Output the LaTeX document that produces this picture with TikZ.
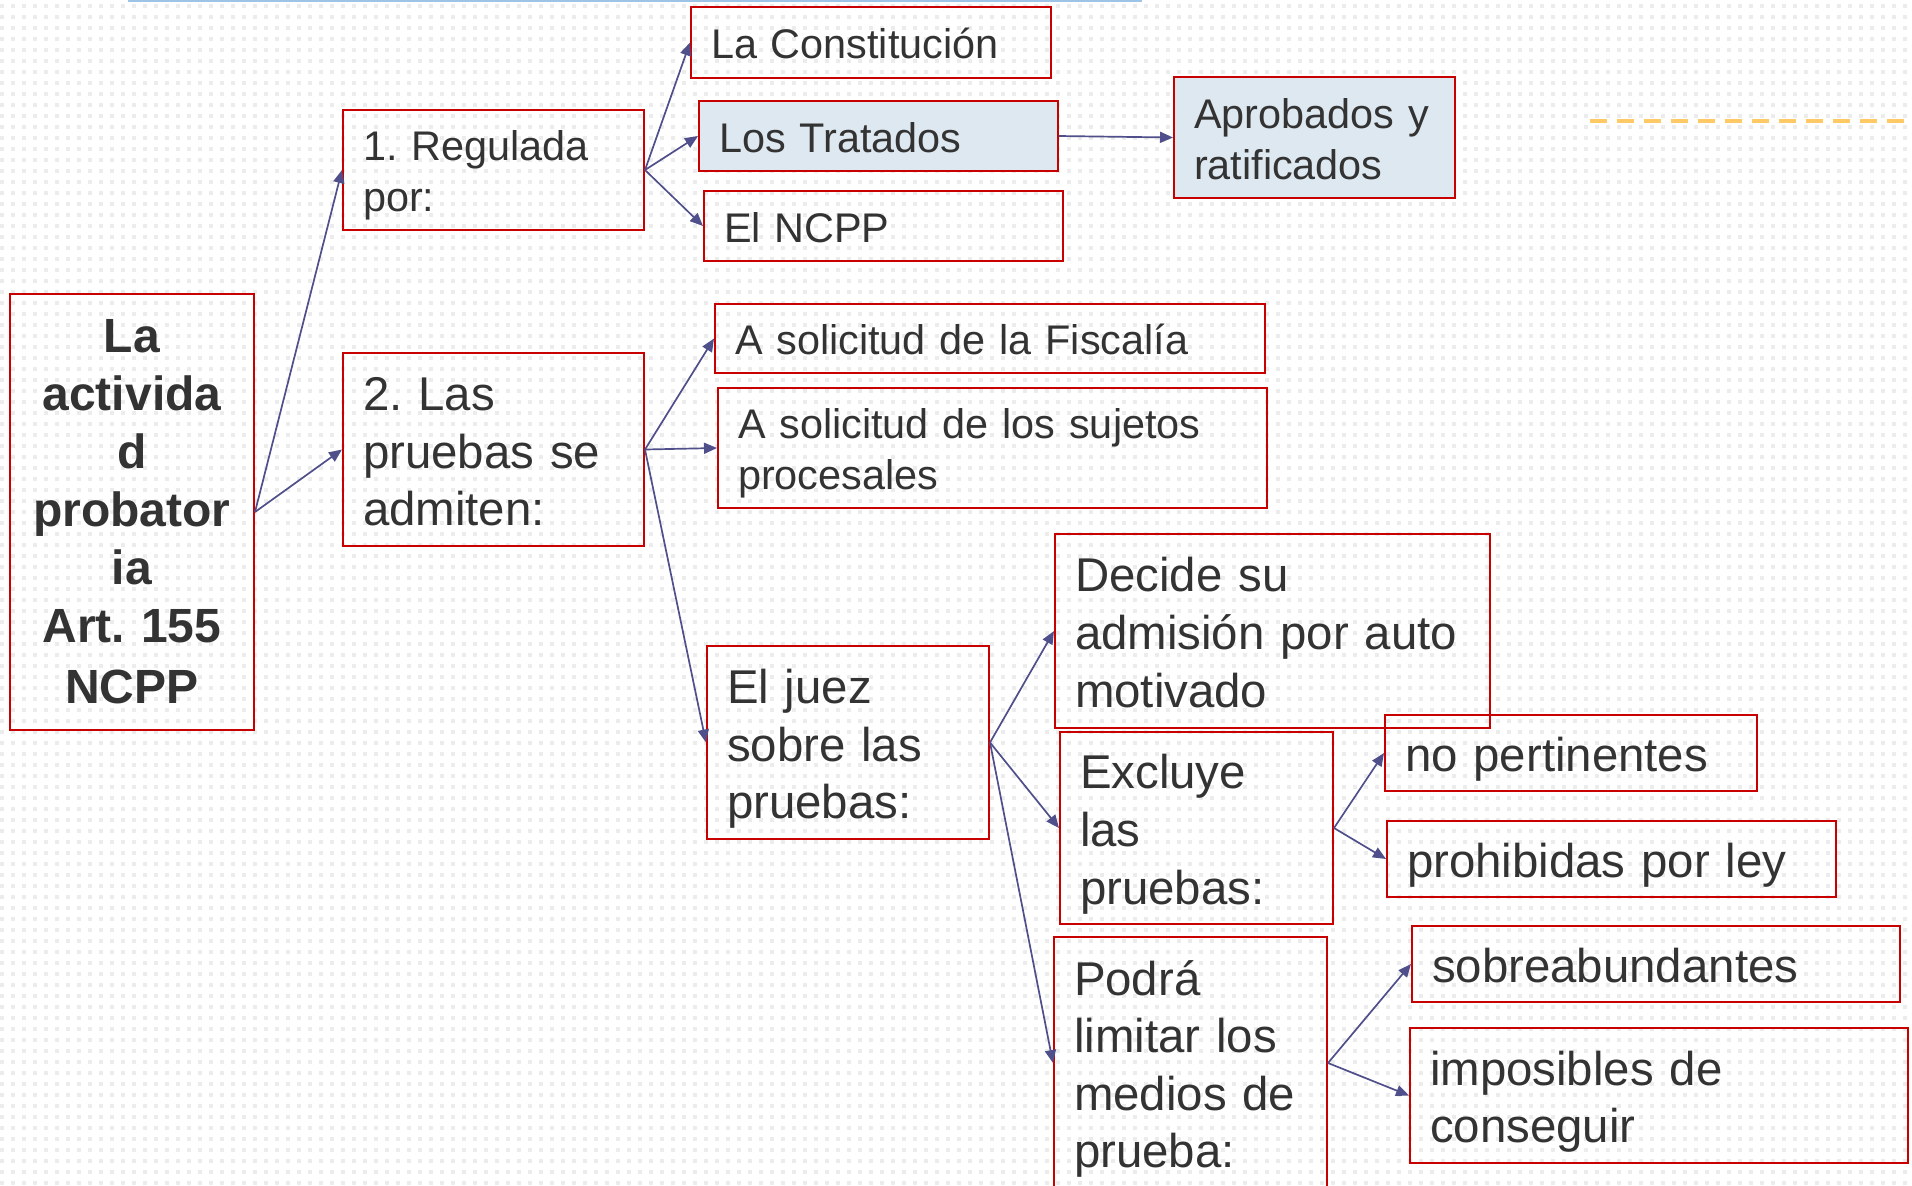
\documentclass[tikz,border=0pt]{standalone}
\usepackage{fontspec}
\setmainfont{Liberation Sans}
\usetikzlibrary{arrows.meta,patterns}
\frenchspacing
\pgfdeclarepatternformonly{bgdots}{\pgfqpoint{0pt}{0pt}}{\pgfqpoint{2pt}{2pt}}{\pgfqpoint{5.5pt}{5.5pt}}{\pgfpathrectangle{\pgfqpoint{0pt}{0pt}}{\pgfqpoint{2pt}{2pt}}\pgfusepath{fill}}
\definecolor{boxred}{RGB}{200,0,0}
\definecolor{boxfill}{RGB}{222,232,240}
\definecolor{arrowc}{RGB}{79,79,139}
\definecolor{txt}{RGB}{51,51,51}
\definecolor{topblue}{RGB}{157,195,230}
\definecolor{dashor}{RGB}{255,201,102}
\definecolor{dotc}{RGB}{236,236,236}
% #1 style, #2 name, #3 x1, #4 y1, #5 x2, #6 y2, #7 text
\newcommand\bxnode[7]{%
  \pgfmathsetmacro\bxw{(#5-#3)*0.5}%
  \pgfmathsetmacro\bxh{(#6-#4)*0.5}%
  \pgfmathsetmacro\bxt{(#5-#3)*0.5-20}%
  \node[box,#1,minimum width=\bxw pt,minimum height=\bxh pt,text width=\bxt pt] (#2) at ({(#3+#5)/2},{(#4+#6)/2}) {#7};%
}
\begin{document}
\begin{tikzpicture}[x=0.5pt,y=-0.5pt,
  box/.style={draw=boxred,line width=1pt,inner xsep=10pt,inner ysep=0pt,align=left,text=txt,anchor=center},
  fsmall/.style={font=\fontsize{20.7}{25.5}\selectfont,
    execute at begin node={\rule{0pt}{21.3pt}},
    execute at end node={\rule[-5.2pt]{0pt}{5.2pt}}},
  fbig/.style={font=\fontsize{23.7}{28.8}\selectfont,
    execute at begin node={\rule{0pt}{24.4pt}},
    execute at end node={\rule[-5.9pt]{0pt}{5.9pt}}},
  fmain/.style={font=\fontsize{24}{29}\selectfont\bfseries},
  filled/.style={fill=boxfill},
  arr/.style={draw=arrowc,line width=0.85pt,-{Triangle[length=6.5pt,width=5.5pt]}}]
\useasboundingbox (0,0) rectangle (1912,1185);
\clip (0,0) rectangle (1912,1185);
\fill[white] (0,0) rectangle (1912,1185);
\fill[pattern=bgdots,pattern color=dotc] (0,0) rectangle (1912,1185);
\draw[topblue,line width=1.5pt] (128,0) -- (1142,0);
\draw[dashor,line width=2pt,dash pattern=on 8.5pt off 5pt] (1590,121) -- (1912,121);

\bxnode{fmain,align=center}{main}{10}{294}{254}{730}{La\\activida\\d\\probator\\ia\\Art. 155\\[1.5pt]NCPP}
\bxnode{fsmall}{reg}{343}{110}{644}{230}{1. Regulada\\por:}
\bxnode{fsmall}{const}{691}{7}{1051}{78}{La Constitución}
\bxnode{fsmall,filled}{trat}{699}{101}{1058}{171}{Los Tratados}
\bxnode{fsmall}{ncpp}{704}{191}{1063}{261}{El NCPP}
\bxnode{fsmall,filled}{aprob}{1174}{77}{1455}{198}{Aprobados y\\ratificados}
\bxnode{fbig}{pru}{343}{353}{644}{546}{2. Las\\pruebas se\\admiten:}
\bxnode{fsmall}{fisc}{715}{304}{1265}{373}{A solicitud de la Fiscalía}
\bxnode{fsmall}{suj}{718}{388}{1267}{508}{A solicitud de los sujetos\\procesales}
\bxnode{fbig}{juez}{707}{646}{989}{839}{El juez\\sobre las\\pruebas:}
\bxnode{fbig}{dec}{1055}{534}{1490}{728}{Decide su\\admisión por auto\\motivado}
\bxnode{fbig}{excl}{1060}{732}{1333}{924}{Excluye\\las\\pruebas:}
\bxnode{fbig}{pod}{1054}{937}{1327}{1189}{Podrá\\limitar los\\medios de\\prueba:}
\bxnode{fbig}{nop}{1385}{715}{1757}{791}{no pertinentes}
\bxnode{fbig}{proh}{1387}{821}{1836}{897}{prohibidas por ley}
\bxnode{fbig}{sobre}{1412}{926}{1900}{1002}{sobreabundantes}
\bxnode{fbig}{imp}{1410}{1028}{1908}{1163}{imposibles de\\conseguir}

\draw[arr] (main.east) -- (reg.west);
\draw[arr] (main.east) -- (pru.west);
\draw[arr] (reg.east) -- (const.west);
\draw[arr] (reg.east) -- (trat.west);
\draw[arr] (reg.east) -- (ncpp.west);
\draw[arr] (trat.east) -- (aprob.west);
\draw[arr] (pru.east) -- (fisc.west);
\draw[arr] (pru.east) -- (suj.west);
\draw[arr] (pru.east) -- (juez.west);
\draw[arr] (juez.east) -- (dec.west);
\draw[arr] (juez.east) -- (excl.west);
\draw[arr] (juez.east) -- (pod.west);
\draw[arr] (excl.east) -- (nop.west);
\draw[arr] (excl.east) -- (proh.west);
\draw[arr] (pod.east) -- (sobre.west);
\draw[arr] (pod.east) -- (imp.west);
\end{tikzpicture}
\end{document}
